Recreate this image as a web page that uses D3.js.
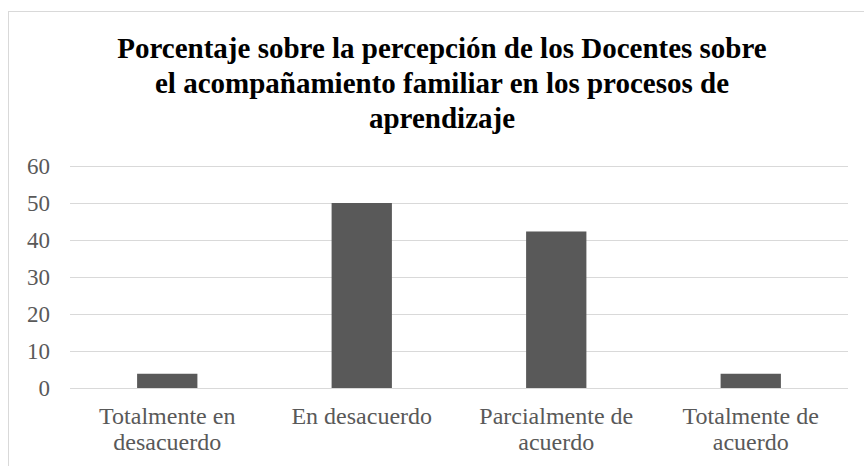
<!DOCTYPE html>
<html>
<head>
<meta charset="utf-8">
<script src="https://cdn.jsdelivr.net/npm/d3@7"></script>
<style>
	body { margin: 0; background: #fff; }
	svg { display: block; }
</style>
</head>
<body>
<script>
var categories = [
	['Totalmente en', 'desacuerdo'],
	['En desacuerdo'],
	['Parcialmente de', 'acuerdo'],
	['Totalmente de', 'acuerdo']
];
var values = [3.85, 50, 42.3, 3.85];
var yTicks = [0, 10, 20, 30, 40, 50, 60];
var titleLines = [
	'Porcentaje sobre la percepción de los Docentes sobre',
	'el acompañamiento familiar en los procesos de',
	'aprendizaje'
];

var W = 864, H = 466;
var margin = { top: 166, right: 16, bottom: 78, left: 70 };
var width = W - margin.left - margin.right,
	height = H - margin.top - margin.bottom;
var serif = 'Liberation Serif';

var svg = d3.select('body').append('svg')
	.attr('width', W)
	.attr('height', H);

// chart area border
svg.append('rect')
	.attr('x', 8.5).attr('y', 11.5)
	.attr('width', W + 20).attr('height', H + 20)
	.style('fill', 'none')
	.style('stroke', '#d9d9d9');

svg.append('text')
	.attr('x', 442)
	.attr('y', 58)
	.attr('text-anchor', 'middle')
	.attr('font-family', serif)
	.attr('font-weight', 'bold')
	.attr('font-size', 29)
	.attr('fill', '#000')
	.selectAll('tspan')
	.data(titleLines)
	.enter().append('tspan')
		.attr('x', 442)
		.attr('dy', function(d, i) { return i ? 35 : 0; })
		.text(function(d) { return d; });

var g = svg.append('g')
	.attr('transform', 'translate(' + margin.left + ',' + margin.top + ')');

var x = d3.scaleBand()
	.domain(d3.range(categories.length))
	.range([0, width])
	.paddingInner(0.69)
	.paddingOuter(0.345);

var y = d3.scaleLinear().domain([0, 60]).range([height, 0]);

// gridlines
g.append('g')
	.call(d3.axisLeft(y).tickValues(yTicks).tickSize(-width).tickFormat(''))
	.call(function(a) { a.select('.domain').remove(); })
	.selectAll('line')
		.style('stroke', '#d9d9d9')
		.style('stroke-width', 1);

// y labels
g.append('g')
	.call(d3.axisLeft(y).tickValues(yTicks).tickSize(0).tickPadding(20))
	.attr('font-family', serif)
	.attr('font-size', 23)
	.call(function(a) { a.select('.domain').remove(); })
	.selectAll('text')
		.attr('fill', '#595959');

g.selectAll('.bar')
	.data(values)
	.enter().append('rect')
		.attr('class', 'bar')
		.attr('x', function(d, i) { return x(i); })
		.attr('y', function(d) { return y(d); })
		.attr('width', x.bandwidth())
		.attr('height', function(d) { return height - y(d); })
		.attr('fill', '#595959');

// x labels
var xl = g.append('g')
	.attr('transform', 'translate(0,' + height + ')');
xl.selectAll('text')
	.data(categories)
	.enter().append('text')
		.attr('x', function(d, i) { return x(i) + x.bandwidth() / 2; })
		.attr('y', 36)
		.attr('text-anchor', 'middle')
		.attr('font-family', serif)
		.attr('font-size', 24)
		.attr('fill', '#595959')
		.each(function(d) {
			var t = d3.select(this);
			d.forEach(function(line, j) {
				t.append('tspan')
					.attr('x', t.attr('x'))
					.attr('dy', j ? 26 : 0)
					.text(line);
			});
		});
</script>
</body>
</html>
